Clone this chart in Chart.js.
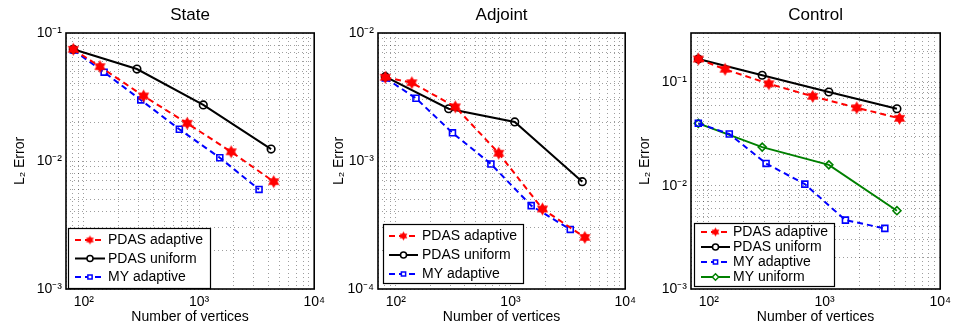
<!DOCTYPE html>
<html>
<head>
<meta charset="utf-8">
<script src="https://cdn.jsdelivr.net/npm/chart.js"></script>
<style>
  body { margin: 0; background: #fff; width: 956px; height: 332px; position: relative; overflow: hidden; }
  canvas { position: absolute; top: 0; }
</style>
</head>
<body>
<canvas id="stateChart" width="330" height="332" style="left:0px"></canvas>
<canvas id="adjointChart" width="315" height="332" style="left:326px"></canvas>
<canvas id="controlChart" width="320" height="332" style="left:636px"></canvas>
<script>
// dados (numero de vertices x erro L2)
var xDecades = [100, 1000, 10000];
var xPdasAdaptive = [81, 138, 330, 790, 1900, 4450];
var xPdasUniform = [81, 289, 1089, 4225];
var xMyAdaptive = [81, 150, 312, 675, 1515, 3320];
var xMyUniform = [81, 289, 1089, 4225];

var stateDecades = [0.001, 0.01, 0.1];
var statePdasAdaptive = [0.0746, 0.0546, 0.0322, 0.0197, 0.0118, 0.0069];
var statePdasUniform = [0.0746, 0.0523, 0.0274, 0.0124];
var stateMyAdaptive = [0.0736, 0.0494, 0.0300, 0.0177, 0.0106, 0.0060];

var adjointDecades = [0.0001, 0.001, 0.01];
var adjointPdasAdaptive = [0.00451, 0.00409, 0.00265, 0.00115, 0.000422, 0.000253];
var adjointPdasUniform = [0.00456, 0.00256, 0.00202, 0.000689];
var adjointMyAdaptive = [0.00445, 0.00309, 0.00166, 0.000948, 0.000448, 0.000292];

var controlDecades = [0.001, 0.01, 0.1];
var controlPdasAdaptive = [0.168, 0.1336, 0.0968, 0.0731, 0.0567, 0.0448];
var controlPdasUniform = [0.168, 0.117, 0.0806, 0.0555];
var controlMyAdaptive = [0.0401, 0.0316, 0.0164, 0.01035, 0.00464, 0.00386];
var controlMyUniform = [0.0401, 0.0236, 0.0159, 0.00572];

var nomes = ['PDAS adaptive', 'PDAS uniform', 'MY adaptive', 'MY uniform'];

Chart.defaults.font.family = '"Liberation Sans", Arial, Helvetica, sans-serif';
Chart.defaults.color = '#000';

// estrela de seis pontas (marcador do MATLAB)
function hexagram(cor, r) {
  var c = document.createElement('canvas');
  var s = Math.ceil(r * 2) + 2;
  c.width = s; c.height = s;
  var g = c.getContext('2d');
  g.fillStyle = cor;
  for (var k = 0; k < 2; k++) {
    g.beginPath();
    for (var i = 0; i < 3; i++) {
      var a = -Math.PI / 2 + k * Math.PI + i * 2 * Math.PI / 3;
      var px = s / 2 + r * Math.cos(a), py = s / 2 + r * Math.sin(a);
      if (i) g.lineTo(px, py); else g.moveTo(px, py);
    }
    g.closePath();
    g.fill();
  }
  return c;
}

var estilos = [
  { cor: '#ff0000', dash: [6, 4], ponto: hexagram('#ff0000', 6.5), raio: 5, pontoLeg: hexagram('#ff0000', 4.5), raioLeg: 3 },
  { cor: '#000000', dash: [], ponto: 'circle', raio: 3.8, pontoLeg: 'circle', raioLeg: 3 },
  { cor: '#0000ff', dash: [6, 4], ponto: 'rect', raio: 4.2, pontoLeg: 'rect', raioLeg: 3 },
  { cor: '#008000', dash: [], ponto: 'rectRot', raio: 4, pontoLeg: 'rectRot', raioLeg: 3.2 }
];

function serie(i, xs, ys) {
  var st = estilos[i];
  return {
    label: nomes[i],
    data: xs.map(function (x, k) { return { x: x, y: ys[k] }; }),
    borderColor: st.cor,
    backgroundColor: 'rgba(0,0,0,0)',
    borderWidth: 2,
    borderDash: st.dash,
    pointStyle: st.ponto,
    pointRadius: st.raio,
    pointHoverRadius: st.raio,
    pointBorderWidth: 1.6,
    pointBorderColor: st.cor,
    pointBackgroundColor: 'rgba(0,0,0,0)',
    estilo: st,
    tension: 0,
    fill: false
  };
}

var sup = { '-': '\u207B', '0': '\u2070', '1': '\u00B9', '2': '\u00B2', '3': '\u00B3', '4': '\u2074' };
function rotuloPotencia(v) {
  var e = String(Math.round(Math.log10(v)));
  return '10' + e.split('').map(function (ch) { return sup[ch]; }).join('');
}

// linhas da grade em 1..9 x 10^n
function gradeLog(min, max) {
  var out = [];
  for (var e = Math.floor(Math.log10(min)); e <= Math.ceil(Math.log10(max)); e++) {
    for (var k = 1; k <= 9; k++) {
      var v = k * Math.pow(10, e);
      if (v >= min * 0.999999 && v <= max * 1.000001) out.push(v);
    }
  }
  return out;
}

function ehDecada(v, lista) {
  return lista.some(function (d) { return Math.abs(v / d - 1) < 1e-6; });
}

// moldura + legenda com caixa
var moldura = {
  id: 'moldura',
  afterDraw: function (chart) {
    var ctx = chart.ctx, a = chart.chartArea;
    ctx.save();
    ctx.strokeStyle = '#000';
    ctx.lineWidth = 1.6;
    ctx.strokeRect(a.left, a.top, a.right - a.left, a.bottom - a.top);

    var L = chart.options.plugins.moldura;
    ctx.fillStyle = '#fff';
    ctx.fillRect(L.x, L.y, L.w, L.h);
    ctx.lineWidth = 1.2;
    ctx.strokeRect(L.x + 0.5, L.y + 0.5, L.w, L.h);
    ctx.font = '14px "Liberation Sans", Arial, sans-serif';
    ctx.textBaseline = 'middle';
    chart.data.datasets.forEach(function (ds, i) {
      var st = ds.estilo, y = L.rows[i];
      ctx.strokeStyle = st.cor;
      ctx.lineWidth = 2;
      ctx.setLineDash(st.dash);
      ctx.beginPath();
      ctx.moveTo(L.x0, y);
      ctx.lineTo(L.x1, y);
      ctx.stroke();
      ctx.setLineDash([]);
      var cx = (L.x0 + L.x1) / 2;
      ctx.lineWidth = 1.5;
      if (typeof st.pontoLeg !== 'string') {
        ctx.drawImage(st.pontoLeg, cx - st.pontoLeg.width / 2, y - st.pontoLeg.height / 2);
      } else {
        ctx.fillStyle = '#fff';
        Chart.helpers.drawPoint(ctx, { pointStyle: st.pontoLeg, radius: st.raioLeg, borderWidth: 1.5, rotation: 0 }, cx, y);
      }
      ctx.fillStyle = '#000';
      ctx.fillText(ds.label, L.tx, y + 0.5);
    });
    ctx.restore();
  }
};

function montaGrafico(id, titulo, datasets, yMin, yMax, yDecadas, cfg) {
  var xGrade = gradeLog(70, 10000);
  var yGrade = gradeLog(yMin, yMax);
  var ctx = document.getElementById(id).getContext('2d');
  return new Chart(ctx, {
    type: 'line',
    data: { datasets: datasets },
    plugins: [moldura],
    options: {
      responsive: false,
      animation: false,
      events: [],
      layout: { padding: { right: cfg.padRight } },
      plugins: {
        legend: { display: false },
        tooltip: { enabled: false },
        title: {
          display: true, text: titulo, fullSize: false,
          font: { size: 17, weight: 'normal' },
          padding: { top: 5, bottom: 7.6 }
        },
        moldura: cfg.legenda
      },
      scales: {
        x: {
          type: 'logarithmic', min: 70, max: 10000,
          afterBuildTicks: function (s) { s.ticks = xGrade.map(function (v) { return { value: v }; }); },
          afterFit: function (s) { s.height = 43; },
          ticks: {
            autoSkip: false, maxRotation: 0, minRotation: 0, padding: 5,
            font: { size: 14 },
            callback: function (v) { return ehDecada(v, xDecades) ? rotuloPotencia(v) : ''; }
          },
          grid: { color: 'rgba(0,0,0,0.38)', lineWidth: 1, drawTicks: false },
          border: { display: false, dash: [1, 3] },
          title: { display: true, text: 'Number of vertices', font: { size: 14 }, padding: { top: 0, bottom: 6 } }
        },
        y: {
          type: 'logarithmic', min: yMin, max: yMax,
          afterBuildTicks: function (s) { s.ticks = yGrade.map(function (v) { return { value: v }; }); },
          afterFit: function (s) { s.width = cfg.eixoY; },
          ticks: {
            autoSkip: false, padding: 4,
            font: { size: 14 },
            callback: function (v) { return ehDecada(v, yDecadas) ? rotuloPotencia(v) : ''; }
          },
          grid: { color: 'rgba(0,0,0,0.38)', lineWidth: 1, drawTicks: false },
          border: { display: false, dash: [1, 3] },
          title: { display: true, text: 'L\u2082 Error', font: { size: 14 }, padding: { top: cfg.tituloY, bottom: 0 } }
        }
      }
    }
  });
}

// grafico State
montaGrafico('stateChart', 'State', [
  serie(0, xPdasAdaptive, statePdasAdaptive),
  serie(1, xPdasUniform, statePdasUniform),
  serie(2, xMyAdaptive, stateMyAdaptive)
], 0.001, 0.1, stateDecades, {
  padRight: 8, eixoY: 66, tituloY: 12,
  legenda: { x: 68, y: 228, w: 142, h: 60, rows: [240, 258.5, 277], x0: 75, x1: 105, tx: 108 }
});

// grafico Adjoint
montaGrafico('adjointChart', 'Adjoint', [
  serie(0, xPdasAdaptive, adjointPdasAdaptive),
  serie(1, xPdasUniform, adjointPdasUniform),
  serie(2, xMyAdaptive, adjointMyAdaptive)
], 0.0001, 0.01, adjointDecades, {
  padRight: 6, eixoY: 52, tituloY: 5,
  legenda: { x: 57, y: 224, w: 140, h: 59, rows: [236, 255, 274], x0: 63, x1: 92, tx: 96 }
});

// grafico Control
montaGrafico('controlChart', 'Control', [
  serie(0, xPdasAdaptive, controlPdasAdaptive),
  serie(1, xPdasUniform, controlPdasUniform),
  serie(2, xMyAdaptive, controlMyAdaptive),
  serie(3, xMyUniform, controlMyUniform)
], 0.001, 0.3, controlDecades, {
  padRight: 9, eixoY: 55, tituloY: 1,
  legenda: { x: 58, y: 223, w: 140, h: 63, rows: [232, 247, 262, 277], x0: 65, x1: 94, tx: 97 }
});
</script>
</body>
</html>
